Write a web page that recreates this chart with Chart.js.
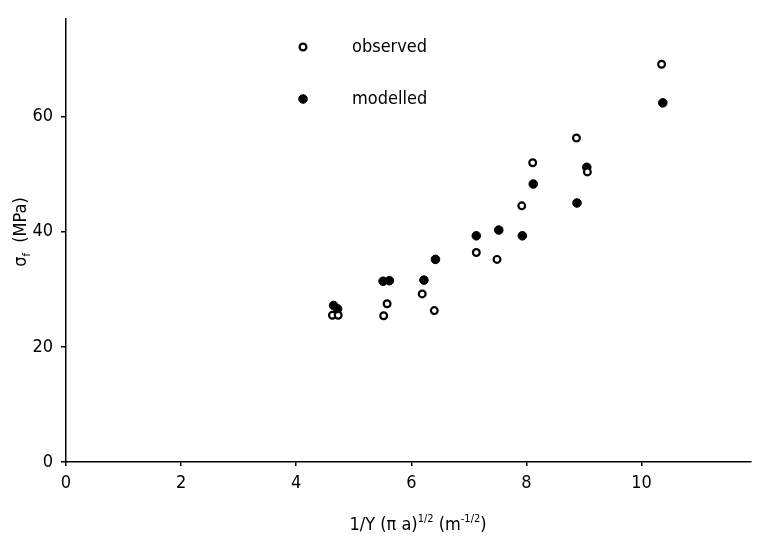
<!DOCTYPE html>
<html>
<head>
<meta charset="utf-8">
<script src="https://cdn.jsdelivr.net/npm/chart.js@4.4.1/dist/chart.umd.min.js"></script>
<style>
  html, body { margin: 0; padding: 0; background: #fff; }
  #wrap { width: 757px; height: 536px; }
</style>
</head>
<body>
<div id="wrap"><canvas id="chart" width="757" height="536"></canvas></div>
<script>
// values
const observedX = [4.63, 4.73, 5.52, 5.58, 6.19, 6.40, 7.13, 7.49, 7.92, 8.11, 8.87, 9.06, 10.35];
const observedY = [25.5, 25.5, 25.4, 27.5, 29.2, 26.3, 36.4, 35.2, 44.5, 52.0, 56.3, 50.4, 69.1];
const modelledX = [4.65, 4.72, 5.51, 5.62, 6.22, 6.42, 7.13, 7.52, 7.93, 8.12, 8.88, 9.05, 10.37];
const modelledY = [27.2, 26.6, 31.4, 31.5, 31.6, 35.2, 39.3, 40.3, 39.3, 48.3, 45.0, 51.2, 62.4];
const xTicks = [0, 2, 4, 6, 8, 10];
const yTicks = [0, 20, 40, 60];

const FONT = "'DejaVu Sans Condensed', 'Liberation Sans Narrow', 'DejaVu Sans', sans-serif";

function toPoints(xs, ys) {
    return xs.map((x, i) => ({ x: x, y: ys[i] }));
}

// axis titles and in-plot legend, drawn by hand
const annotations = {
    id: 'annotations',
    afterDraw(chart) {
        const ctx = chart.ctx;
        ctx.save();
        ctx.fillStyle = '#000';
        ctx.textBaseline = 'alphabetic';

        // x title: 1/Y (πa)^1/2 (m^-1/2)
        const big = '18px ' + FONT;
        const small = '11px ' + FONT;
        const parts = [
            ['1/Y (\u03c0 a)', big, 0],
            ['1/2', small, -8],
            [' (m', big, 0],
            ['-1/2', small, -8],
            [')', big, 0]
        ];
        let w = 0;
        parts.forEach(p => { ctx.font = p[1]; w += ctx.measureText(p[0]).width; });
        let x = 418 - w / 2;
        const y = 530;
        parts.forEach(p => {
            ctx.font = p[1];
            ctx.fillText(p[0], x, y + p[2]);
            x += ctx.measureText(p[0]).width;
        });

        // y title: σf (MPa), rotated
        ctx.translate(26, 232);
        ctx.rotate(-Math.PI / 2);
        const s1 = '\u03c3', s3 = '  (MPa)';
        ctx.font = big; const w1 = ctx.measureText(s1).width;
        ctx.font = small; const w2 = ctx.measureText('f').width;
        ctx.font = big; const w3 = ctx.measureText(s3).width;
        let tx = -(w1 + w2 + w3) / 2;
        ctx.font = big; ctx.fillText(s1, tx, 0); tx += w1;
        ctx.font = small; ctx.fillText('f', tx, 4); tx += w2;
        ctx.font = big; ctx.fillText(s3, tx, 0);
        ctx.setTransform(1, 0, 0, 1, 0, 0);

        // legend
        const items = chart.data.datasets;
        const rows = [47, 99];
        items.forEach((ds, i) => {
            ctx.beginPath();
            ctx.arc(303, rows[i], ds.pointRadius, 0, Math.PI * 2);
            ctx.fillStyle = ds.pointBackgroundColor;
            ctx.fill();
            ctx.lineWidth = ds.pointBorderWidth;
            ctx.strokeStyle = '#000';
            ctx.stroke();
            ctx.fillStyle = '#000';
            ctx.font = '18px ' + FONT;
            ctx.textBaseline = 'middle';
            ctx.fillText(ds.label, 352, rows[i]);
        });
        ctx.restore();
    }
};

new Chart(document.getElementById('chart'), {
    type: 'scatter',
    data: {
        datasets: [
            {
                label: 'observed',
                data: toPoints(observedX, observedY),
                pointRadius: 3.4,
                pointBorderWidth: 2.2,
                pointBorderColor: '#000',
                pointBackgroundColor: '#fff'
            },
            {
                label: 'modelled',
                data: toPoints(modelledX, modelledY),
                pointRadius: 4.3,
                pointBorderWidth: 1,
                pointBorderColor: '#000',
                pointBackgroundColor: '#000'
            }
        ]
    },
    options: {
        responsive: false,
        animation: false,
        layout: { padding: { top: 13, right: 0, left: 0, bottom: 0 } },
        plugins: {
            legend: { display: false },
            tooltip: { enabled: false }
        },
        scales: {
            x: {
                type: 'linear',
                min: 0,
                max: 11.9,
                afterBuildTicks(scale) {
                    scale.ticks = xTicks.map(v => ({ value: v }));
                },
                afterFit(scale) { scale.height = 74; },
                ticks: {
                    color: '#000',
                    font: { family: FONT, size: 18 },
                    padding: 7,
                    maxRotation: 0
                },
                grid: {
                    display: true,
                    drawOnChartArea: false,
                    drawTicks: true,
                    tickLength: 4,
                    color: '#000',
                    lineWidth: 1.5
                },
                border: { display: true, color: '#000', width: 1.5 }
            },
            y: {
                type: 'linear',
                min: 0,
                max: 77,
                afterBuildTicks(scale) {
                    scale.ticks = yTicks.map(v => ({ value: v }));
                },
                afterFit(scale) { scale.width = 66; },
                ticks: {
                    color: '#000',
                    font: { family: FONT, size: 18 },
                    padding: 8
                },
                grid: {
                    display: true,
                    drawOnChartArea: false,
                    drawTicks: true,
                    tickLength: 5,
                    color: '#000',
                    lineWidth: 1.5
                },
                border: { display: true, color: '#000', width: 1.5 }
            }
        }
    },
    plugins: [annotations]
});
</script>
</body>
</html>
